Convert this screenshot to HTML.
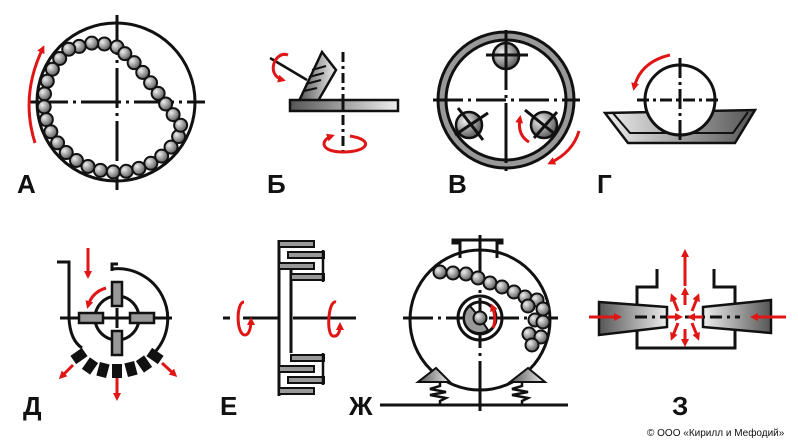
<!DOCTYPE html>
<html><head><meta charset="utf-8"><style>
html,body{margin:0;padding:0;background:#fff;width:798px;height:443px;overflow:hidden}
svg{display:block}
text{font-family:"Liberation Sans",sans-serif;font-weight:bold}
</style></head><body>
<svg id="s" width="798" height="443" viewBox="0 0 798 443" xmlns="http://www.w3.org/2000/svg">
<defs>
<radialGradient id="bg" cx="35%" cy="35%" r="70%"><stop offset="0" stop-color="#eee"/><stop offset="1" stop-color="#555"/></radialGradient>
<linearGradient id="lg" x1="0" y1="0" x2="1" y2="0"><stop offset="0" stop-color="#555"/><stop offset="1" stop-color="#eee"/></linearGradient>
<linearGradient id="lg2" x1="0" y1="0" x2="1" y2="0"><stop offset="0" stop-color="#eee"/><stop offset="1" stop-color="#555"/></linearGradient>
<marker id="ar" markerWidth="8" markerHeight="8" refX="5" refY="4" orient="auto" markerUnits="userSpaceOnUse"><path d="M0,0 L8,4 L0,8 z" fill="#e01515"/></marker>
</defs>
<g fill="none" stroke="#111" stroke-width="3">
<circle cx="116" cy="102" r="79"/>
<line x1="117" y1="15" x2="117" y2="190" stroke-dasharray="40,5,3,5"/>
<line x1="28" y1="102" x2="205" y2="102" stroke-dasharray="40,5,3,5"/>
</g>
<g id="ballsA"></g>
<path d="M35,143 Q20,95 43,48" fill="none" stroke="#e01515" stroke-width="3" marker-end="url(#ar)"/>

<g stroke="#111" stroke-width="3" fill="none">
<line x1="343" y1="52" x2="343" y2="156" stroke-dasharray="10,4,3,4"/>
<line x1="270" y1="58" x2="307" y2="80" stroke-width="2.5"/>
</g>
<polygon points="299,101 322,52 336,70 318,101" fill="url(#lg)" stroke="#111" stroke-width="2.5"/>
<g stroke="#111" stroke-width="2"><line x1="312" y1="70" x2="326" y2="66"/><line x1="309" y1="77" x2="324" y2="73"/><line x1="306" y1="84" x2="321" y2="80"/><line x1="304" y1="91" x2="317" y2="88"/></g>
<rect x="290" y="100" width="108" height="11" fill="url(#lg)" stroke="#111" stroke-width="2.5"/>
<line x1="343" y1="100" x2="343" y2="111" stroke="#111" stroke-width="3"/>
<path d="M288,55 C275,50 265,75 283,80" fill="none" stroke="#e01515" stroke-width="3" marker-end="url(#ar)"/>
<path d="M350,136 C375,140 368,152 343,152 C320,152 320,140 332,136" fill="none" stroke="#e01515" stroke-width="3" marker-end="url(#ar)"/>

<circle cx="506" cy="100" r="64" fill="none" stroke="#999" stroke-width="8"/>
<circle cx="506" cy="100" r="68" fill="none" stroke="#111" stroke-width="3"/>
<circle cx="506" cy="100" r="60" fill="none" stroke="#111" stroke-width="3"/>
<circle cx="506" cy="56" r="13" fill="url(#bg)" stroke="#111" stroke-width="2.5"/>
<circle cx="469" cy="125" r="13" fill="url(#bg)" stroke="#111" stroke-width="2.5"/>
<circle cx="544" cy="125" r="13" fill="url(#bg)" stroke="#111" stroke-width="2.5"/>
<g stroke="#111" stroke-width="3" fill="none">
<line x1="506" y1="30" x2="506" y2="172" stroke-dasharray="60,5,3,5"/>
<line x1="433" y1="100" x2="580" y2="100" stroke-dasharray="30,5,3,5"/>
<line x1="486" y1="55" x2="528" y2="55"/>
<line x1="458" y1="108" x2="483" y2="140"/><line x1="455" y1="135" x2="488" y2="113"/>
<line x1="525" y1="110" x2="556" y2="135"/><line x1="534" y1="138" x2="557" y2="112"/>
</g>
<path d="M529,142 Q517,135 520,118" fill="none" stroke="#e01515" stroke-width="3" marker-end="url(#ar)"/>
<path d="M579,131 Q573,152 550,163" fill="none" stroke="#e01515" stroke-width="3" marker-end="url(#ar)"/>

<polygon points="605,113 755,110 735,143 628,143" fill="url(#lg2)" stroke="#111" stroke-width="2.5"/>
<polyline points="612,112 630,133 733,133 748,112" fill="none" stroke="#111" stroke-width="2"/>
<circle cx="680" cy="100" r="35" fill="#fff" stroke="#111" stroke-width="3"/>
<line x1="680" y1="58" x2="680" y2="143" stroke="#111" stroke-width="3" stroke-dasharray="20,4,3,4"/>
<line x1="637" y1="100" x2="722" y2="100" stroke="#111" stroke-width="3" stroke-dasharray="12,4,3,4"/>
<path d="M670,55 Q640,62 634,88" fill="none" stroke="#e01515" stroke-width="3" marker-end="url(#ar)"/>

<g stroke="#111" stroke-width="3" fill="none">
<polyline points="57,262 69,262 69,318"/>
<path d="M69,318 Q70,340 82,348"/>
<polyline points="118,264 112,264 112,271"/>
<path d="M112,269 A50,50 0 0 1 155,352"/>
<circle cx="117" cy="318" r="22"/>
<line x1="60" y1="318" x2="172" y2="318"/>
<line x1="117" y1="308" x2="117" y2="328"/>
</g>
<g fill="#999" stroke="#111" stroke-width="2.5">
<rect x="112" y="282" width="10" height="24"/><rect x="112" y="331" width="10" height="24"/>
<rect x="79" y="313" width="24" height="10"/><rect x="130" y="313" width="24" height="10"/>
</g>
<g fill="#111">
<rect x="-5" y="-7" width="10" height="14" transform="translate(79,356) rotate(55)"/>
<rect x="-5" y="-7" width="10" height="14" transform="translate(90,366) rotate(35)"/>
<rect x="-5" y="-7" width="10" height="14" transform="translate(103,370) rotate(15)"/>
<rect x="-5" y="-7" width="10" height="14" transform="translate(117,371)"/>
<rect x="-5" y="-7" width="10" height="14" transform="translate(131,369) rotate(-15)"/>
<rect x="-5" y="-7" width="10" height="14" transform="translate(144,364) rotate(-35)"/>
<rect x="-5" y="-7" width="10" height="14" transform="translate(155,356) rotate(-55)"/>
</g>
<g stroke="#e01515" stroke-width="3" fill="none">
<line x1="88" y1="248" x2="88" y2="276" marker-end="url(#ar)"/>
<path d="M106,288 Q92,292 88,306" marker-end="url(#ar)"/>
<line x1="73" y1="365" x2="61" y2="377" marker-end="url(#ar)"/>
<line x1="117" y1="378" x2="117" y2="398" marker-end="url(#ar)"/>
<line x1="162" y1="363" x2="175" y2="375" marker-end="url(#ar)"/>
</g>

<g stroke="#111" stroke-width="3" fill="none">
<line x1="279" y1="240" x2="279" y2="396"/>
<line x1="291" y1="270" x2="291" y2="353"/>
<line x1="223" y1="318" x2="230" y2="318"/><line x1="243" y1="318" x2="279" y2="318"/>
<line x1="293" y1="318" x2="356" y2="318"/>
</g>
<g fill="#999" stroke="#111" stroke-width="2">
<rect x="279" y="241" width="35" height="6"/><rect x="288" y="252" width="36" height="6"/><rect x="279" y="263" width="35" height="6"/><rect x="291" y="274" width="33" height="6"/>
<rect x="291" y="355" width="33" height="6"/><rect x="279" y="366" width="35" height="6"/><rect x="288" y="377" width="36" height="6"/><rect x="279" y="388" width="35" height="6"/>
</g>
<g stroke="#111" stroke-width="2.5" fill="none"><line x1="323" y1="250" x2="323" y2="282"/><line x1="323" y1="353" x2="323" y2="385"/></g>
<g stroke="#e01515" stroke-width="3" fill="none">
<path d="M244,302 C236,302 236,335 245,335 C249,335 251,328 251,320" marker-end="url(#ar)"/>
<path d="M336,302 C328,300 326,335 333,336 C338,337 340,332 340,325" marker-end="url(#ar)"/>
</g>

<g stroke="#111" stroke-width="3" fill="none">
<circle cx="480" cy="320" r="70"/>
<polyline points="460,258 460,243 453,243 453,240 502,240 502,243 497,243 497,258"/>
<circle cx="480" cy="318" r="22"/>
<circle cx="480" cy="318" r="16"/>
<line x1="480" y1="235" x2="480" y2="413" stroke-dasharray="50,5,3,5"/>
<line x1="403" y1="318" x2="558" y2="318" stroke-dasharray="30,5,3,5"/>
<line x1="380" y1="405" x2="568" y2="405"/>
<polyline points="440,383 440,386 430,389 446,392 430,395 446,398 440,401 440,405" stroke-width="2.5"/>
<polyline points="522,383 522,386 512,389 528,392 512,395 528,398 522,401 522,405" stroke-width="2.5"/>
</g>
<polygon points="418,382 450,382 436,368" fill="url(#lg)" stroke="#111" stroke-width="2"/>
<polygon points="510,382 545,382 528,368" fill="url(#lg)" stroke="#111" stroke-width="2"/>
<path d="M480,318 L470,306 A14,14 0 0 0 488,330 Z" fill="#999" stroke="#111" stroke-width="2"/>
<g id="ballsZh"></g>
<path d="M493,328 Q497,318 492,306" fill="none" stroke="#e01515" stroke-width="3" marker-end="url(#ar)"/>

<polyline points="657,269 657,287 637,287 637,348 735,348 735,287 714,287 714,269" fill="none" stroke="#111" stroke-width="3"/>
<polygon points="599,302 667,307 667,327 599,335" fill="url(#lg)" stroke="#111" stroke-width="2.5"/>
<polygon points="703,307 771,300 771,333 703,327" fill="url(#lg2)" stroke="#111" stroke-width="2.5"/>
<line x1="635" y1="317" x2="740" y2="317" stroke="#111" stroke-width="3" stroke-dasharray="12,5,3,5"/>
<g stroke="#e01515" stroke-width="3" fill="none">
<line x1="589" y1="317" x2="619" y2="317" marker-end="url(#ar)"/>
<line x1="786" y1="317" x2="753" y2="317" marker-end="url(#ar)"/>
<line x1="685" y1="286" x2="685" y2="252" marker-end="url(#ar)"/>
<line x1="685" y1="305" x2="685" y2="290" marker-end="url(#ar)"/>
<line x1="685" y1="329" x2="685" y2="344" marker-end="url(#ar)"/>
<line x1="678" y1="311" x2="672" y2="296" marker-end="url(#ar)"/>
<line x1="692" y1="311" x2="698" y2="296" marker-end="url(#ar)"/>
<line x1="678" y1="323" x2="672" y2="338" marker-end="url(#ar)"/>
<line x1="692" y1="323" x2="698" y2="338" marker-end="url(#ar)"/>
<line x1="667" y1="317" x2="680" y2="317" marker-end="url(#ar)"/>
<line x1="703" y1="317" x2="690" y2="317" marker-end="url(#ar)"/>
</g>

<g font-size="26" fill="#111">
<text x="17" y="193">А</text>
<text x="267" y="193">Б</text>
<text x="448" y="193">В</text>
<text x="597" y="193">Г</text>
<text x="23" y="415">Д</text>
<text x="220" y="415">Е</text>
<text x="349" y="415">Ж</text>
<text x="672" y="415">З</text>
</g>
<text x="647" y="436" font-size="10" style="font-weight:normal" fill="#111">© ООО «Кирилл и Мефодий»</text>
</svg>
<script>
var NS="http://www.w3.org/2000/svg";
function ball(g,x,y,r){var c=document.createElementNS(NS,"circle");c.setAttribute("cx",x);c.setAttribute("cy",y);c.setAttribute("r",r);c.setAttribute("fill","url(#bg)");c.setAttribute("stroke","#111");c.setAttribute("stroke-width","2");g.appendChild(c);}
function chain(g,pts,step,r){var acc=0;ball(g,pts[0][0],pts[0][1],r);for(var i=1;i<pts.length;i++){var a=pts[i-1],b=pts[i];var d=Math.hypot(b[0]-a[0],b[1]-a[1]);var t=step-acc;while(t<=d){ball(g,a[0]+(b[0]-a[0])*t/d,a[1]+(b[1]-a[1])*t/d,r);t+=step;}acc=d-(t-step);}}
var pts=[[117,47],[96,42],[77,47]];
for(var t=235;t>=20;t-=3){var a=t*Math.PI/180;pts.push([116+72*Math.cos(a),102+70*Math.sin(a)]);}
pts.push([160,96],[145,75],[130,58],[117,47]);
chain(document.getElementById("ballsA"),pts,13,6.5);
var g=document.getElementById("ballsZh");
[[440,272],[453,273],[466,274],[478,278],[490,283],[502,287],[514,292],[525,297],[537,300],[543,309],[528,306],[535,320],[543,322],[529,334],[541,337],[532,345],[480,318]].forEach(function(p){ball(g,p[0],p[1],6.5);});
</script>
</body></html>
